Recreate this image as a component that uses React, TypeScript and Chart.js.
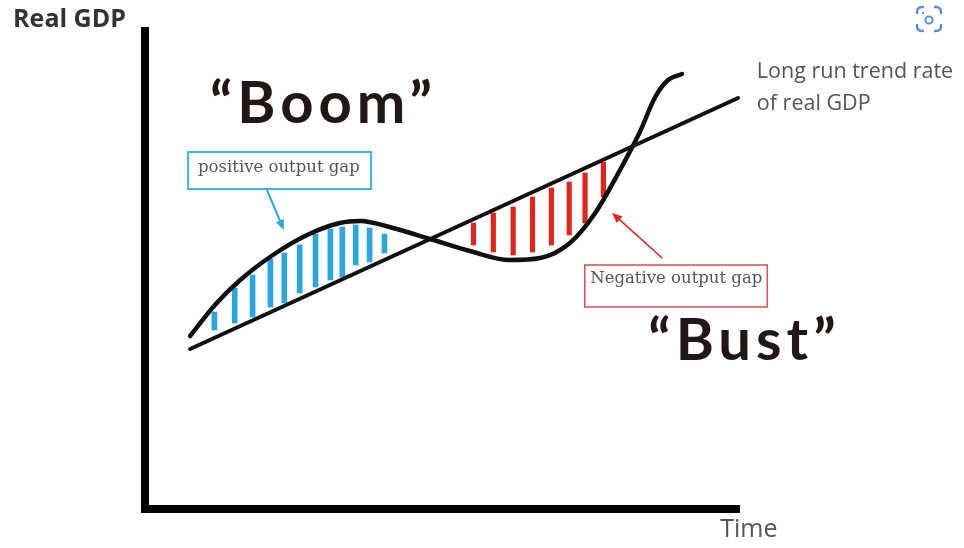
import React, { useEffect, useRef } from 'react';
import { Chart, registerables } from 'chart.js';

Chart.register(...registerables);

// ---- scale ranges (time units / GDP units) ----
const timeMax = 120;
const gdpMax = 96.4;

// ---- economic cycle (actual real GDP) ----
const cycleTime = [9.1, 14.1, 19.2, 25.8, 32.7, 39.3, 43.4, 50.0, 57.5, 65.5, 73.6, 79.7, 85.7, 90.8, 95.8, 99.8, 102.9, 105.5, 108.3];
const cycleGDP = [34.6, 40.8, 45.8, 50.8, 54.8, 57.2, 57.6, 56.2, 54.0, 51.6, 49.8, 50.2, 53.2, 59.2, 67.8, 75.4, 82.4, 85.8, 87.0];

// ---- long-run trend ----
const trendTime = [9.1, 119.6];
const trendGDP = [32.0, 82.2];

// ---- positive output gap hatching ----
const boomTime = [14.5, 18.6, 22.2, 25.8, 28.6, 31.7, 34.9, 37.9, 40.3, 43.0, 45.8, 48.8];
const boomLow = [35.8, 37.2, 38.4, 40.4, 41.2, 43.2, 44.4, 45.8, 46.4, 48.8, 49.4, 51.2];
const boomHigh = [39.4, 44.2, 46.8, 50.0, 51.2, 52.8, 55.0, 56.0, 56.4, 56.8, 56.2, 55.0];

// ---- negative output gap hatching ----
const bustTime = [65.8, 69.8, 73.8, 77.7, 81.5, 85.1, 88.3, 92.0];
const bustLow = [52.8, 51.4, 50.8, 51.4, 52.8, 54.8, 57.2, 62.4];
const bustHigh = [57.2, 59.2, 60.4, 62.4, 64.2, 65.4, 67.2, 69.4];

// ---- axes ----
const axisTime = [0, 0, timeMax];
const axisGDP = [gdpMax, 0, 0];

// ---- texts ----
const axisTitleY = 'Real GDP';
const axisTitleX = 'Time';
const boomText = '“Boom”';
const bustText = '“Bust”';
const trendLabel = ['Long run trend rate', 'of real GDP'];
const positiveGapText = 'positive output gap';
const negativeGapText = 'Negative output gap';

const BLUE = '#2aa7df';
const RED = '#e3231c';

const pts = (xs: number[], ys: number[]) => xs.map((x, i) => ({ x, y: ys[i] }));
const bars = (xs: number[], lo: number[], hi: number[]) => xs.map((x, i) => ({ x, y: [lo[i], hi[i]] }));

function drawArrow(ctx: CanvasRenderingContext2D, x1: number, y1: number, x2: number, y2: number, color: string, w: number, head: number) {
  const a = Math.atan2(y2 - y1, x2 - x1);
  ctx.save();
  ctx.strokeStyle = color;
  ctx.fillStyle = color;
  ctx.lineWidth = w;
  ctx.beginPath();
  ctx.moveTo(x1, y1);
  ctx.lineTo(x2 - Math.cos(a) * head * 0.6, y2 - Math.sin(a) * head * 0.6);
  ctx.stroke();
  ctx.beginPath();
  ctx.moveTo(x2, y2);
  ctx.lineTo(x2 - head * Math.cos(a - 0.4), y2 - head * Math.sin(a - 0.4));
  ctx.lineTo(x2 - head * Math.cos(a + 0.4), y2 - head * Math.sin(a + 0.4));
  ctx.closePath();
  ctx.fill();
  ctx.restore();
}

const annotationPlugin = {
  id: 'annotations',
  afterDatasetsDraw(chart: any) {
    const { ctx } = chart;
    const xs = chart.scales.x;
    const ys = chart.scales.y;
    const px = (v: number) => xs.getPixelForValue(v);
    const py = (v: number) => ys.getPixelForValue(v);
    ctx.save();
    ctx.textBaseline = 'alphabetic';
    ctx.textAlign = 'left';

    // axis titles
    ctx.fillStyle = '#333';
    ctx.font = 'bold 25px "Open Sans"';
    ctx.fillText(axisTitleY, px(-26.6), py(96.4));
    ctx.fillStyle = '#555';
    ctx.font = '25px "Open Sans"';
    ctx.fillText(axisTitleX, px(116.0), py(-5.6));

    // Boom / Bust
    ctx.fillStyle = '#221714';
    ctx.font = 'bold 58px Lato';
    (ctx as any).letterSpacing = '5px';
    ctx.fillText(boomText, px(13.1), py(77.2));
    ctx.fillText(bustText, px(101.5), py(29.8));
    (ctx as any).letterSpacing = '0px';

    // trend label
    ctx.fillStyle = '#555';
    ctx.font = '21.5px "Open Sans"';
    ctx.fillText(trendLabel[0], px(123.4), py(86.2));
    ctx.fillText(trendLabel[1], px(123.4), py(79.8));

    // positive gap box
    ctx.strokeStyle = '#3fb4e4';
    ctx.lineWidth = 2;
    ctx.strokeRect(px(8.7), py(71.4), px(45.6) - px(8.7), py(64.0) - py(71.4));
    ctx.fillStyle = '#555';
    ctx.font = '16.5px "DejaVu Serif"';
    ctx.fillText(positiveGapText, px(10.7), py(67.4));

    // negative gap box
    ctx.strokeStyle = '#e0555a';
    ctx.lineWidth = 1.6;
    ctx.strokeRect(px(88.7), py(48.8), px(125.5) - px(88.7), py(40.4) - py(48.8));
    ctx.fillStyle = '#555';
    ctx.fillText(negativeGapText, px(89.8), py(45.2));

    // arrows
    drawArrow(ctx, px(24.6), py(63.8), px(28.0), py(55.8), BLUE, 2, 11);
    drawArrow(ctx, px(104.3), py(50.2), px(94.2), py(59.2), RED, 1.6, 11);

    // lens icon (top-right)
    const cx = chart.width - 35, cy = 19, h = 12, r = 5;
    ctx.strokeStyle = '#5b90d8';
    ctx.lineWidth = 2.4;
    ctx.lineCap = 'round';
    const corners = [[-1, -1], [1, -1], [1, 1], [-1, 1]];
    corners.forEach(([sx, sy]) => {
      ctx.beginPath();
      ctx.moveTo(cx + sx * h, cy + sy * (h - 6));
      ctx.lineTo(cx + sx * h, cy + sy * (h - r));
      ctx.quadraticCurveTo(cx + sx * h, cy + sy * h, cx + sx * (h - r), cy + sy * h);
      ctx.lineTo(cx + sx * (h - 6), cy + sy * h);
      ctx.stroke();
    });
    ctx.fillStyle = '#5b90d8';
    ctx.beginPath();
    ctx.arc(cx, cy + 1, 3.6, 0, Math.PI * 2);
    ctx.lineWidth = 2;
    ctx.stroke();
    ctx.beginPath();
    ctx.arc(cx - 6, cy - 6, 1.2, 0, Math.PI * 2);
    ctx.fill();
    ctx.restore();
  },
};

export default function App() {
  const ref = useRef<HTMLCanvasElement>(null);
  useEffect(() => {
    const chart = new Chart(ref.current!, {
      type: 'line',
      data: {
        datasets: [
          {
            type: 'line',
            data: pts(axisTime, axisGDP),
            borderColor: '#000',
            borderWidth: 8,
            borderJoinStyle: 'miter',
            borderCapStyle: 'butt',
            pointRadius: 0,
            tension: 0,
            clip: false,
            order: 0,
          } as any,
          {
            type: 'line',
            data: pts(trendTime, trendGDP),
            borderColor: '#111',
            borderWidth: 4,
            borderCapStyle: 'round',
            pointRadius: 0,
            tension: 0,
            clip: false,
            order: 1,
          } as any,
          {
            type: 'line',
            data: pts(cycleTime, cycleGDP),
            borderColor: '#111',
            borderWidth: 4.5,
            borderCapStyle: 'round',
            pointRadius: 0,
            cubicInterpolationMode: 'monotone',
            clip: false,
            order: 1,
          } as any,
          {
            type: 'bar',
            data: bars(boomTime, boomLow, boomHigh),
            backgroundColor: BLUE,
            barThickness: 5,
            borderWidth: 0,
            borderSkipped: false,
            order: 3,
          } as any,
          {
            type: 'bar',
            data: bars(bustTime, bustLow, bustHigh),
            backgroundColor: RED,
            barThickness: 4.5,
            borderWidth: 0,
            borderSkipped: false,
            order: 3,
          } as any,
        ],
      },
      options: {
        animation: false,
        responsive: false,
        devicePixelRatio: 1,
        events: [],
        layout: { padding: { left: 145, right: 224, top: 27, bottom: 39 } },
        plugins: { legend: { display: false }, tooltip: { enabled: false } },
        scales: {
          x: { type: 'linear', min: 0, max: timeMax, display: false, offset: false, grid: { offset: false } },
          y: { type: 'linear', min: 0, max: gdpMax, display: false },
        },
      } as any,
      plugins: [annotationPlugin],
    });
    return () => chart.destroy();
  }, []);
  return (
    <div style={{ position: 'fixed', left: 0, top: 0, width: 964, height: 548, background: '#fff' }}>
      <canvas ref={ref} width={964} height={548} style={{ width: 964, height: 548, display: 'block' }} />
    </div>
  );
}
